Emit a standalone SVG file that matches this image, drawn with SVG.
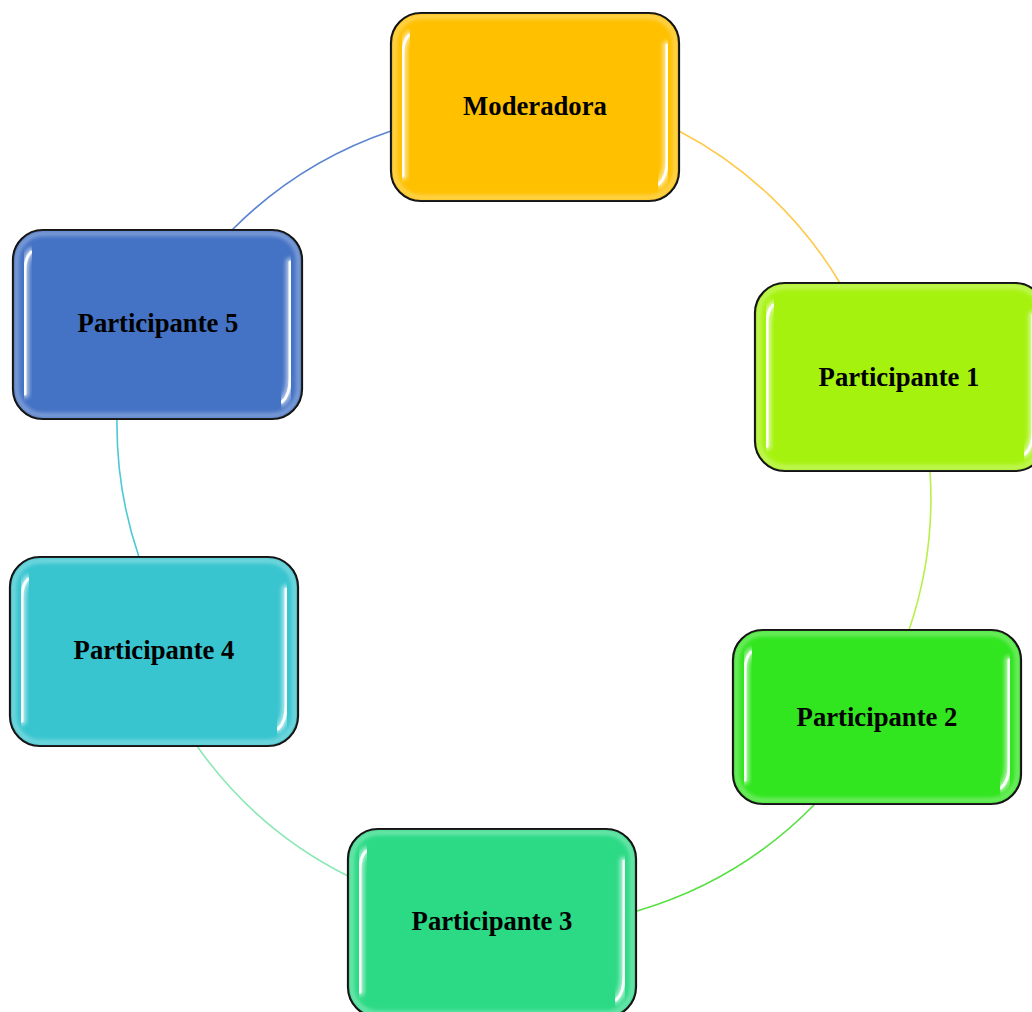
<svg xmlns="http://www.w3.org/2000/svg" width="1032" height="1012" viewBox="0 0 1032 1012">
  <defs>
    <filter id="soft" x="-10%" y="-10%" width="120%" height="120%">
      <feGaussianBlur stdDeviation="0.7"/>
    </filter>
    <filter id="glow" x="-10%" y="-10%" width="120%" height="120%">
      <feGaussianBlur stdDeviation="2.2"/>
    </filter>
  </defs>
  <style>
    .box { stroke: #000000; stroke-width: 2.2; }
    .bevel { fill: none; stroke: #ffffff; stroke-opacity: 0.4; stroke-width: 4; filter: url(#glow); }
    .hl-wide { fill: none; stroke: #ffffff; stroke-opacity: 0.6; stroke-width: 8; stroke-linecap: round; filter: url(#glow); }
    .hl { fill: none; stroke: #ffffff; stroke-opacity: 0.95; stroke-width: 3; stroke-linecap: round; filter: url(#soft); }
    .label { font-family: "Liberation Serif", "Times New Roman", serif; font-weight: bold; font-size: 26.7px; fill: #000000; text-anchor: middle; }
    .link { fill: none; stroke-width: 1.6; }
  </style>

  <!-- connectors: arcs around the ring -->
  <g id="connectors">
    <path class="link" stroke="#FFC94A" d="M679,131 A408,408 0 0 1 840,283"/>
    <path class="link" stroke="#B8F04A" d="M930,471 A408,408 0 0 1 909,630"/>
    <path class="link" stroke="#55E040" d="M815,804 A408,408 0 0 1 637,911"/>
    <path class="link" stroke="#8CE8B4" d="M348,876 A408,408 0 0 1 197,746"/>
    <path class="link" stroke="#4CC9D3" d="M139,557 A408,408 0 0 1 117,419"/>
    <path class="link" stroke="#5A84D2" d="M232,230 A408,408 0 0 1 391,131"/>
  </g>

  <!-- Moderadora -->
  <g id="moderadora" transform="translate(391,13)">
    <rect class="box" x="0" y="0" width="288" height="188" rx="30" ry="30" fill="#FFC000"/>
    <rect class="bevel" x="3.5" y="3.5" width="281" height="181" rx="27" ry="27"/>
    <path class="hl-wide" d="M18,22 Q12,28 12,40 V163"/>
    <path class="hl" d="M18,22 Q12,28 12,40 V163"/>
    <path class="hl-wide" d="M276,32 V148 Q276,164 268,171"/>
    <path class="hl" d="M276,32 V148 Q276,164 268,171"/>
    <text class="label" x="144" y="102">Moderadora</text>
  </g>

  <!-- Participante 1 -->
  <g id="participante1" transform="translate(755,283)">
    <rect class="box" x="0" y="0" width="290" height="188" rx="30" ry="30" fill="#A6F20F"/>
    <rect class="bevel" x="3.5" y="3.5" width="283" height="181" rx="27" ry="27"/>
    <path class="hl-wide" d="M18,22 Q12,28 12,40 V163"/>
    <path class="hl" d="M18,22 Q12,28 12,40 V163"/>
    <path class="hl-wide" d="M278,32 V148 Q278,164 270,171"/>
    <path class="hl" d="M278,32 V148 Q278,164 270,171"/>
    <text class="label" x="144" y="103">Participante 1</text>
  </g>

  <!-- Participante 2 -->
  <g id="participante2" transform="translate(733,630)">
    <rect class="box" x="0" y="0" width="288" height="174" rx="30" ry="30" fill="#31E51F"/>
    <rect class="bevel" x="3.5" y="3.5" width="281" height="167" rx="27" ry="27"/>
    <path class="hl-wide" d="M18,22 Q12,28 12,40 V150"/>
    <path class="hl" d="M18,22 Q12,28 12,40 V150"/>
    <path class="hl-wide" d="M276,30 V136 Q276,151 268,158"/>
    <path class="hl" d="M276,30 V136 Q276,151 268,158"/>
    <text class="label" x="144" y="96">Participante 2</text>
  </g>

  <!-- Participante 3 -->
  <g id="participante3" transform="translate(348,829)">
    <rect class="box" x="0" y="0" width="288" height="188" rx="30" ry="30" fill="#2CDA86"/>
    <rect class="bevel" x="3.5" y="3.5" width="281" height="181" rx="27" ry="27"/>
    <path class="hl-wide" d="M18,22 Q12,28 12,40 V163"/>
    <path class="hl" d="M18,22 Q12,28 12,40 V163"/>
    <path class="hl-wide" d="M276,32 V148 Q276,164 268,171"/>
    <path class="hl" d="M276,32 V148 Q276,164 268,171"/>
    <text class="label" x="144" y="101">Participante 3</text>
  </g>

  <!-- Participante 4 -->
  <g id="participante4" transform="translate(10,557)">
    <rect class="box" x="0" y="0" width="288" height="189" rx="30" ry="30" fill="#38C5CF"/>
    <rect class="bevel" x="3.5" y="3.5" width="281" height="182" rx="27" ry="27"/>
    <path class="hl-wide" d="M18,22 Q12,28 12,40 V164"/>
    <path class="hl" d="M18,22 Q12,28 12,40 V164"/>
    <path class="hl-wide" d="M276,32 V149 Q276,165 268,172"/>
    <path class="hl" d="M276,32 V149 Q276,165 268,172"/>
    <text class="label" x="144" y="102">Participante 4</text>
  </g>

  <!-- Participante 5 -->
  <g id="participante5" transform="translate(13,230)">
    <rect class="box" x="0" y="0" width="289" height="189" rx="30" ry="30" fill="#4472C4"/>
    <rect class="bevel" x="3.5" y="3.5" width="282" height="182" rx="27" ry="27"/>
    <path class="hl-wide" d="M18,22 Q12,28 12,40 V164"/>
    <path class="hl" d="M18,22 Q12,28 12,40 V164"/>
    <path class="hl-wide" d="M277,32 V149 Q277,165 269,172"/>
    <path class="hl" d="M277,32 V149 Q277,165 269,172"/>
    <text class="label" x="145" y="102">Participante 5</text>
  </g>
</svg>
